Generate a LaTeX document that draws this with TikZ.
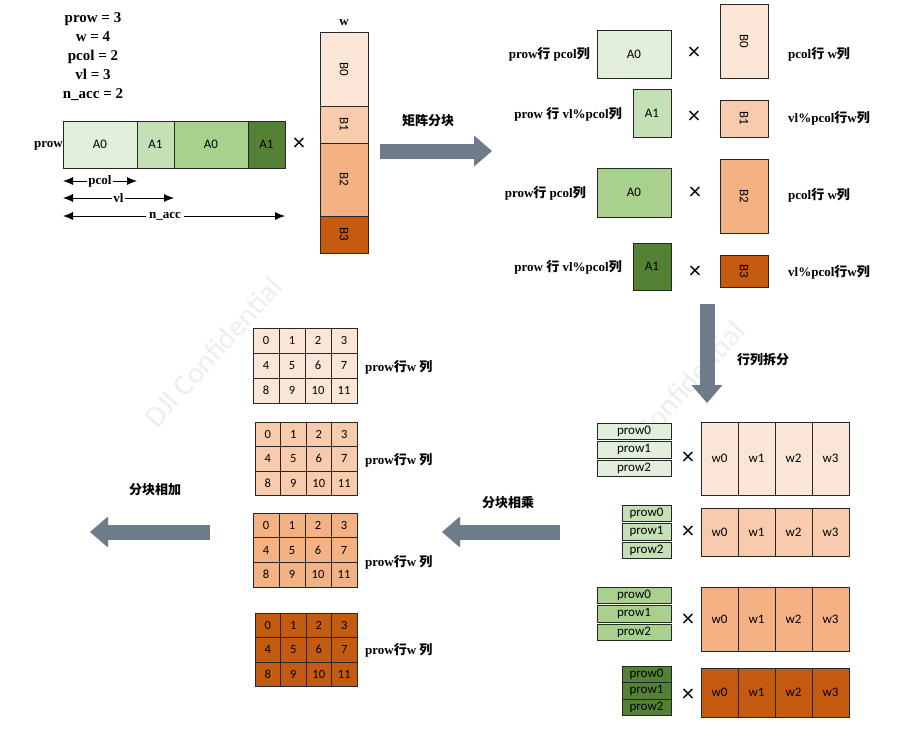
\documentclass[tikz,border=0pt]{standalone}
\usepackage{fontspec}
\setmainfont{Liberation Serif}
\newfontfamily\cali{Carlito}
\newfontfamily\cjk{Noto Sans CJK SC}
\usetikzlibrary{arrows.meta}

\definecolor{gA}{HTML}{E2EFDA}
\definecolor{gB}{HTML}{C5E0B4}
\definecolor{gC}{HTML}{A9D18E}
\definecolor{gD}{HTML}{548235}
\definecolor{oA}{HTML}{FBE5D6}
\definecolor{oB}{HTML}{F8CBAD}
\definecolor{oC}{HTML}{F4B183}
\definecolor{oD}{HTML}{C55A11}
\definecolor{arrgray}{HTML}{6D7B8B}

\newcommand\zh[1]{{\cjk #1}}

\tikzset{
  blk/.style={draw=black!85,line width=0.7pt,inner sep=0pt,outer sep=0pt,
    font=\cali\fontsize{13}{13}\selectfont},
  cell/.style={blk,font=\cali\fontsize{12.5}{12.5}\selectfont},
  lbl/.style={inner sep=0pt,font=\fontsize{13}{13}\selectfont\bfseries},
  cross/.style={inner sep=0pt,font=\cali\fontsize{24}{24}\selectfont},
  dimarr/.style={{Latex[length=10pt,width=8pt]}-{Latex[length=10pt,width=8pt]},line width=0.8pt},
  bigarr/.style={draw=arrgray,line width=15pt,-{Triangle[length=18pt,width=31pt,line width=0pt]}},
  wmark/.style={text=gray!13,font=\cali\fontsize{30}{30}\selectfont,rotate=48}
}

\begin{document}
\begin{tikzpicture}[x=1pt,y=-1pt]
  \useasboundingbox (0,0) rectangle (905,739);
  \fill[white] (0,0) rectangle (905,739);
  % watermarks
  \node[wmark] (wm1) at (213,352) {DJI Confidential};
  \node[wmark] (wm2) at (676,396) {DJI Confidential};

  % parameters and the A row
  \node[align=center,inner sep=0,font=\fontsize{15}{19}\selectfont\bfseries] (params) at (93,57)
    {prow = 3\\w = 4\\pcol = 2\\vl = 3\\n\_acc = 2};
  \node[blk,fill=gA,minimum width=74,minimum height=47] (a0) at (100,144.5) {A0};
  \node[blk,fill=gB,minimum width=37,minimum height=47,anchor=west] (a1) at (a0.east) {A1};
  \node[blk,fill=gC,minimum width=74,minimum height=47,anchor=west] (a2) at (a1.east) {A0};
  \node[blk,fill=gD,minimum width=37,minimum height=47,anchor=west] (a3) at (a2.east) {A1};
  \node[lbl,anchor=east] (prowlab) at ([yshift=-1.5pt]a0.west) {prow};
  \node[cross] (x0) at (299,144) {×};
  \draw[dimarr] ([yshift=-13pt]a0.south west) -- ([yshift=-13pt]a0.south east)
    node[lbl,midway,fill=white,inner sep=1pt] (pcollab) {pcol};
  \draw[dimarr] ([yshift=-30pt]a0.south west) -- ([yshift=-30pt]a1.south east)
    node[lbl,midway,fill=white,inner sep=1pt] (vllab) {vl};
  \draw[dimarr] ([yshift=-48pt]a0.south west) -- ([yshift=-48pt]a3.south east)
    node[lbl,pos=0.46,fill=white,inner sep=3pt] (nacclab) {n\_acc};

  % the B column
  \node[blk,fill=oA,minimum width=48,minimum height=74] (b0) at (344,69) {\rotatebox{-90}{B0}};
  \node[blk,fill=oB,minimum width=48,minimum height=37,anchor=north] (b1) at (b0.south) {\rotatebox{-90}{B1}};
  \node[blk,fill=oC,minimum width=48,minimum height=73,anchor=north] (b2) at (b1.south) {\rotatebox{-90}{B2}};
  \node[blk,fill=oD,minimum width=48,minimum height=37,anchor=north] (b3) at (b2.south) {\rotatebox{-90}{B3}};
  \node[lbl,anchor=south] (wlab) at ([yshift=6pt]b0.north) {w};

  % block split arrow
  \coordinate (s1) at (380,151);
  \coordinate (e1) at (492,151);
  \draw[bigarr] (s1) -- (e1);
  \node[lbl] (t1) at (428,121) {\zh{矩阵分块}};

  % the split blocks
  \node[blk,fill=gA,minimum width=74,minimum height=48] (ra0) at (634,54) {A0};
  \node[blk,fill=oA,minimum width=48,minimum height=74] (rb0) at (744,41) {\rotatebox{-90}{B0}};
  \node[blk,fill=gB,minimum width=38,minimum height=48] (ra1) at (652,113) {A1};
  \node[blk,fill=oB,minimum width=48,minimum height=37] (rb1) at (744,118.5) {\rotatebox{-90}{B1}};
  \node[blk,fill=gC,minimum width=74,minimum height=49] (ra2) at (634,192.5) {A0};
  \node[blk,fill=oC,minimum width=48,minimum height=74] (rb2) at (744,196) {\rotatebox{-90}{B2}};
  \node[blk,fill=gD,minimum width=38,minimum height=47] (ra3) at (652,266.5) {A1};
  \node[blk,fill=oD,minimum width=48,minimum height=32] (rb3) at (744,271) {\rotatebox{-90}{B3}};
  \node[cross] (x1) at (694,53) {×};
  \node[cross] (x2) at (694,117) {×};
  \node[cross] (x3) at (695,193) {×};
  \node[cross] (x4) at (695,272) {×};
  \node[lbl,anchor=east] (l1) at (590,54) {prow\zh{行} pcol\zh{列}};
  \node[lbl,anchor=east] (l2) at (622,114) {prow \zh{行} vl\%pcol\zh{列}};
  \node[lbl,anchor=east] (l3) at (586,193) {prow\zh{行} pcol\zh{列}};
  \node[lbl,anchor=east] (l4) at (622,267) {prow \zh{行} vl\%pcol\zh{列}};
  \node[lbl,anchor=west] (r1) at (788,54) {pcol\zh{行} w\zh{列}};
  \node[lbl,anchor=west] (r2) at (788,118) {vl\%pcol\zh{行}w\zh{列}};
  \node[lbl,anchor=west] (r3) at (788,195) {pcol\zh{行} w\zh{列}};
  \node[lbl,anchor=west] (r4) at (788,272) {vl\%pcol\zh{行}w\zh{列}};

  % row/column split arrow
  \coordinate (s2) at (707,304);
  \coordinate (e2) at (707,403);
  \draw[bigarr] (s2) -- (e2);
  \node[lbl] (t2) at (763,360) {\zh{行列拆分}};

  % rows times columns
  \foreach \k/\px/\py/\ps/\wy/\wh/\my/\gc/\oc in
    {1/597/423/18.5/422/73/458/gA/oA, 2/622/505/18.5/508/48/532/gB/oB,
     3/597/587/18.5/587/64/620/gC/oC, 4/622/666/16.5/668/49/695/gD/oD} {
    \foreach \i in {0,1,2}
      \node[blk,fill=\gc,minimum width={671-\px},minimum height=16.5,anchor=north west]
        (p\k\i) at (\px,{\py+\i*\ps}) {prow\i};
    \foreach \j in {0,...,3}
      \node[blk,fill=\oc,minimum width=37,minimum height=\wh,anchor=north west]
        (w\k\j) at ({701+\j*37},\wy) {w\j};
    \node[cross] (m\k) at (688,\my) {×};
  }

  % block multiply arrow
  \coordinate (s3) at (560,532);
  \coordinate (e3) at (442,532);
  \draw[bigarr] (s3) -- (e3);
  \node[lbl] (t3) at (508,503) {\zh{分块相乘}};

  % result grids
  \foreach \k/\gx/\gy/\cw/\ch/\ly/\oc in
    {1/253/328/26/25/367/oA, 2/255/422/25.5/24.5/460/oB,
     3/253/513/26/24.7/562/oC, 4/255/613/25.5/24.5/650/oD} {
    \foreach \r in {0,1,2}
      \foreach \c in {0,...,3} {
        \pgfmathtruncatemacro\n{\r*4+\c}
        \node[cell,fill=\oc,minimum width=\cw,minimum height=\ch,anchor=north west]
          (g\k-\r-\c) at ({\gx+\c*\cw},{\gy+\r*\ch}) {\n};
      }
    \node[lbl,anchor=west] (gl\k) at (365,\ly) {prow\zh{行}w \zh{列}};
  }

  % block add arrow
  \coordinate (s4) at (210,532);
  \coordinate (e4) at (90,532);
  \draw[bigarr] (s4) -- (e4);
  \node[lbl] (t4) at (155,490) {\zh{分块相加}};
\end{tikzpicture}
\end{document}
